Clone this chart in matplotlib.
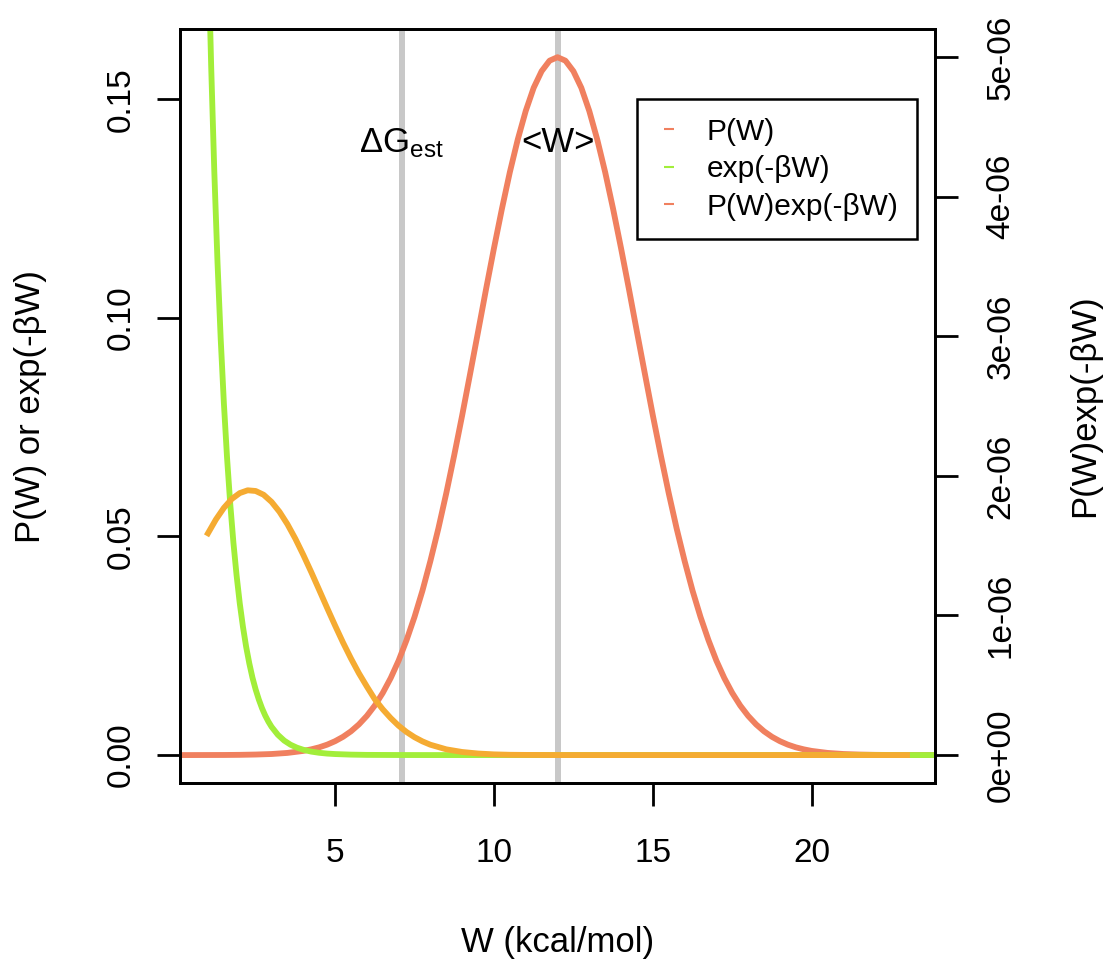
import numpy as np
import matplotlib
matplotlib.use("Agg")
from matplotlib import pyplot as plt
from matplotlib.lines import Line2D

plt.rcParams.update({
  "font.family": ['Liberation Sans', 'DejaVu Sans'],
  "font.size": 24,
  "mathtext.fontset": 'custom',
  "mathtext.rm": 'Liberation Sans',
  "mathtext.it": 'Liberation Sans:italic',
  "axes.linewidth": 2.0,
})

# work values W (kcal/mol)
w_p = [0, 0.5, 1, 1.5, 2, 2.5, 3, 3.5,
       4, 4.25, 4.5, 4.75, 5, 5.25, 5.5, 5.75, 6, 6.25, 6.5, 6.75,
       7, 7.25, 7.5, 7.75, 8, 8.25, 8.5, 8.75, 9, 9.25, 9.5, 9.75,
       10, 10.25, 10.5, 10.75, 11, 11.25, 11.5, 11.75, 12,
       12.25, 12.5, 12.75, 13, 13.25, 13.5, 13.75, 14, 14.25, 14.5, 14.75,
       15, 15.25, 15.5, 15.75, 16, 16.25, 16.5, 16.75, 17, 17.25, 17.5, 17.75,
       18, 18.25, 18.5, 18.75, 19, 19.25, 19.5, 19.75, 20,
       20.5, 21, 21.5, 22, 22.5, 23, 23.5, 24]
p_w = [0.0, 0.0, 0.00001, 0.00002, 0.00005, 0.00012, 0.00024, 0.00049,
       0.00095, 0.00131, 0.00177, 0.00238, 0.00317, 0.00417, 0.00543, 0.00701,
       0.00896, 0.01133, 0.0142, 0.0176, 0.0216, 0.0263, 0.0316, 0.0376,
       0.0444, 0.0518, 0.0599, 0.0686, 0.0777, 0.0872, 0.0968, 0.1065,
       0.1159, 0.1249, 0.1333, 0.1408, 0.1473, 0.1526, 0.1564, 0.1588, 0.1596,
       0.1588, 0.1564, 0.1526, 0.1473, 0.1408, 0.1333, 0.1249, 0.1159, 0.1065,
       0.0968, 0.0872, 0.0777, 0.0686, 0.0599, 0.0518, 0.0444, 0.0376, 0.0316,
       0.0263, 0.0216, 0.0176, 0.0142, 0.01133, 0.00896, 0.00701, 0.00543,
       0.00417, 0.00317, 0.00238, 0.00177, 0.00131, 0.00095,
       0.00049, 0.00024, 0.00012, 0.00005, 0.00002, 0.00001, 0.0, 0.0]

w_exp = [1, 1.1, 1.2, 1.3, 1.4, 1.5, 1.6, 1.7, 1.8, 1.9, 2.0, 2.1, 2.2, 2.3,
         2.4, 2.5, 2.6, 2.7, 2.8, 2.9, 3.0, 3.2, 3.4, 3.6, 3.8, 4.0, 4.25,
         4.5, 4.75, 5, 5.5, 6, 7, 8, 10, 15, 20, 25]
exp_bw = [0.1864, 0.1576, 0.1332, 0.1126, 0.0952, 0.0805, 0.0680, 0.0575,
          0.0486, 0.0411, 0.0347, 0.02936, 0.0248, 0.02098, 0.0177, 0.0150,
          0.0127, 0.01072, 0.00906, 0.00766, 0.00647, 0.00463, 0.00330,
          0.00236, 0.00169, 0.00121, 0.00079, 0.00052, 0.00034, 0.00023,
          0.0001, 0.00004, 0.00001, 0.0, 0.0, 0.0, 0.0, 0.0]

w_prod = [1, 1.25, 1.5, 1.75, 2, 2.25, 2.5, 2.75, 3, 3.25, 3.5, 3.75, 4,
          4.25, 4.5, 4.75, 5, 5.25, 5.5, 5.75, 6, 6.25, 6.5, 6.75, 7, 7.25,
          7.5, 7.75, 8, 8.5, 9, 9.5, 10, 10.5, 11, 12, 14, 16, 18, 20, 22, 23]
p_exp = [1.589e-6, 1.688e-6, 1.771e-6, 1.835e-6, 1.877e-6, 1.897e-6,
         1.892e-6, 1.865e-6, 1.814e-6, 1.743e-6, 1.654e-6, 1.550e-6,
         1.434e-6, 1.311e-6, 1.183e-6, 1.054e-6, 0.928e-6, 0.806e-6,
         0.692e-6, 0.586e-6, 0.491e-6, 0.400e-6, 0.328e-6, 0.265e-6,
         0.210e-6, 0.165e-6, 0.128e-6, 0.098e-6, 0.074e-6, 0.041e-6,
         0.022e-6, 0.011e-6, 0.005e-6, 0.002e-6, 0.001e-6,
         0.0, 0.0, 0.0, 0.0, 0.0, 0.0, 0.0]

dg_est = 7.1
w_mean = 12.0

c_red = '#F0805F'
c_green = '#A2EE3A'
c_orange = '#F5AB32'
c_grey = '#C8C8C8'

fig = plt.figure(figsize=(11.14, 9.6), dpi=100)
ax = fig.add_axes([0.1616, 0.1844, 0.8393 - 0.1616, 0.9695 - 0.1844])

ax.axvline(dg_est, color=c_grey, lw=4.3)
ax.axvline(w_mean, color=c_grey, lw=4.3)
ax.plot(w_p, p_w, color=c_red, lw=4.2, solid_joinstyle='round')
ax.plot(w_exp, exp_bw, color=c_green, lw=4.2, solid_joinstyle='round')

ax.text(dg_est, 0.14, r'$\mathrm{\Delta G_{est}}$', ha='center', va='center', fontsize=25)
ax.text(w_mean, 0.14, '<W>', ha='center', va='center', fontsize=25)

ax.set_xlim(0.12, 23.88)
ax.set_ylim(-0.006384, 0.165984)
ax.set_xticks([5, 10, 15, 20])
ax.set_yticks([0.0, 0.05, 0.10, 0.15])
ax.set_yticklabels(['0.00', '0.05', '0.10', '0.15'])
ax.tick_params(axis='x', length=16.5, width=2.0, pad=23)
ax.tick_params(axis='y', length=16.5, width=2.0, pad=15)
plt.setp(ax.get_yticklabels(), rotation=90, va='center')

ax.set_xlabel('W (kcal/mol)', fontsize=25)
ax.xaxis.set_label_coords(0.5, -0.211)
ax.xaxis.label.set_va('center')
ax.set_ylabel('P(W) or exp(-βW)', fontsize=25)
ax.yaxis.set_label_coords(-0.1987, 0.5)
ax.yaxis.label.set_va('center')

ax2 = ax.twinx()
ax2.plot(w_prod, p_exp, color=c_orange, lw=4.2, solid_joinstyle='round')
ax2.set_ylim(-0.2e-6, 5.2e-6)
ax2.set_yticks([0, 1e-6, 2e-6, 3e-6, 4e-6, 5e-6])
ax2.set_yticklabels(['0e+00', '1e-06', '2e-06', '3e-06', '4e-06', '5e-06'])
ax2.tick_params(axis='y', length=16.5, width=2.0, pad=20)
plt.setp(ax2.get_yticklabels(), rotation=90, va='center')
ax2.set_ylabel('P(W)exp(-βW)', fontsize=25)
ax2.yaxis.set_label_coords(1.1987, 0.5)
ax2.yaxis.label.set_va('center')

# legend keys in the original are tiny dashes
handles = [Line2D([], [], color=c_red, ls='none', marker='_', ms=7.5, mew=1.5),
           Line2D([], [], color=c_green, ls='none', marker='_', ms=7.5, mew=1.5),
           Line2D([], [], color=c_red, ls='none', marker='_', ms=7.5, mew=1.5)]
leg = ax2.legend(handles, ['P(W)', 'exp(-βW)', 'P(W)exp(-βW)'],
                 loc='upper right', bbox_to_anchor=(0.976, 0.9075),
                 borderaxespad=0, fontsize=21.5, handlelength=0.9,
                 handletextpad=0.8, labelspacing=0.32, borderpad=0.62,
                 fancybox=False, framealpha=1)
leg.get_frame().set_edgecolor('black')
leg.get_frame().set_linewidth(1.8)

fig.savefig('out.png', dpi=100)
